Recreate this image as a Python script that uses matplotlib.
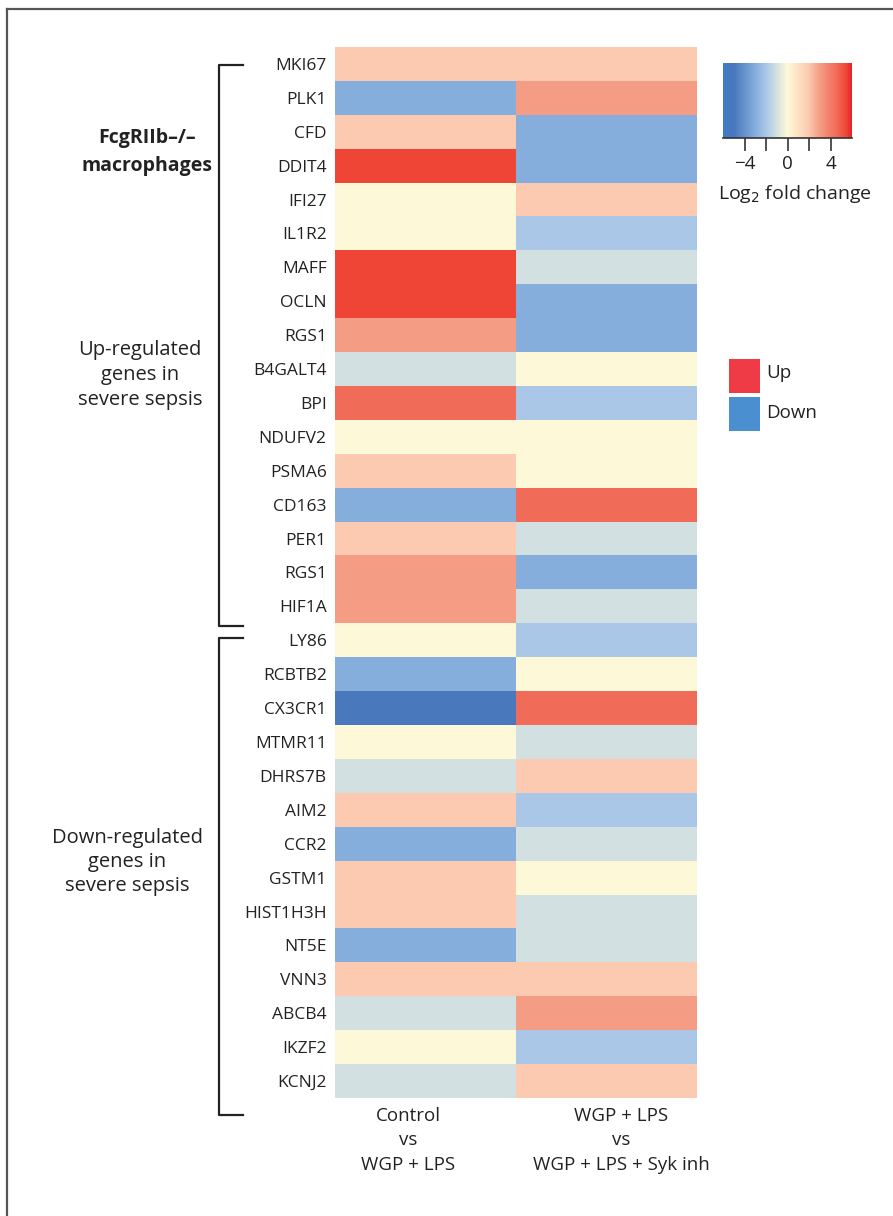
import numpy as np
import matplotlib
matplotlib.use("Agg")
import matplotlib.pyplot as plt
from matplotlib.colors import LinearSegmentedColormap
from matplotlib.lines import Line2D
from matplotlib.patches import Rectangle

plt.rcParams['font.family'] = ['Open Sans', 'DejaVu Sans']

genes = ["MKI67", "PLK1", "CFD", "DDIT4", "IFI27", "IL1R2", "MAFF", "OCLN",
         "RGS1", "B4GALT4", "BPI", "NDUFV2", "PSMA6", "CD163", "PER1", "RGS1",
         "HIF1A", "LY86", "RCBTB2", "CX3CR1", "MTMR11", "DHRS7B", "AIM2", "CCR2",
         "GSTM1", "HIST1H3H", "NT5E", "VNN3", "ABCB4", "IKZF2", "KCNJ2"]

# log2 fold change, Control vs WGP + LPS
lfc_control = [2, -3, 2, 5.5, 0, 0, 5.5, 5.5,
               3, -1, 4.5, 0, 2, -3, 2, 3,
               3, 0, -3, -5, 0, -1, 2, -3,
               2, 2, -3, 2, -1, 0, -1]
# log2 fold change, WGP + LPS vs WGP + LPS + Syk inh
lfc_syk = [2, 3, -3, -3, 2, -2, -1, -3,
           -3, 0, -2, 0, 0, 4.5, -1, -3,
           -1, -2, 0, 4.5, -1, 2, -2, -1,
           0, -1, -1, 2, 3, -2, 2]

column_labels = ["Control\nvs\nWGP + LPS", "WGP + LPS\nvs\nWGP + LPS + Syk inh"]

W, H = 893, 1216
fig = plt.figure(figsize=(W / 100, H / 100), dpi=100)
TXT = "#222222"


def fx(px):
    return px / W


def fy(py):
    return 1 - py / H


# diverging palette, blue -> pale yellow -> red
anchors = [(-6, "#3f7cc6"), (-5, "#4a78bd"), (-3, "#85aedd"), (-2, "#aac7e7"),
           (-1, "#d4e1e1"), (0, "#fef9d8"), (2, "#fbcab0"), (3, "#f59e85"),
           (4.5, "#f26d5b"), (5.5, "#ef4837"), (6, "#e8202a")]
cmap = LinearSegmentedColormap.from_list(
    "lfc", [((v + 6) / 12, c) for v, c in anchors])

data = np.column_stack([lfc_control, lfc_syk])

ax = fig.add_axes([fx(335), fy(1098), fx(697) - fx(335), fy(47) - fy(1098)])
ax.imshow(data, cmap=cmap, vmin=-6, vmax=6, aspect="auto",
          interpolation="nearest")
ax.set_yticks(range(len(genes)))
ax.set_yticklabels(genes, fontsize=12.5, color=TXT)
ax.tick_params(axis="y", length=0, pad=6)
ax.set_xticks([])
for s in ax.spines.values():
    s.set_visible(False)

# column labels under the heatmap
for xc, lab in zip([408, 621], column_labels):
    fig.text(fx(xc), fy(1107), lab, ha="center", va="top",
             fontsize=13.5, color=TXT, linespacing=1.45)


# group brackets
def bracket(y0, y1):
    xs = [fx(243), fx(219), fx(219), fx(243)]
    ys = [fy(y0), fy(y0), fy(y1), fy(y1)]
    fig.add_artist(Line2D(xs, ys, color=TXT, lw=1.6,
                          transform=fig.transFigure))


bracket(65, 626)
bracket(638, 1115)

fig.text(fx(147), fy(152), "FcgRIIb–/–\nmacrophages", ha="center", va="center",
         fontsize=14, fontweight="bold", color=TXT, linespacing=1.6)
fig.text(fx(140), fy(375), "Up-regulated\ngenes in\nsevere sepsis",
         ha="center", va="center", fontsize=14.5, color=TXT,
         linespacing=1.3)
fig.text(fx(127), fy(862), "Down-regulated\ngenes in\nsevere sepsis",
         ha="center", va="center", fontsize=14.5, color=TXT,
         linespacing=1.3)

# colour bar
cax = fig.add_axes([fx(723), fy(138), fx(852) - fx(723), fy(63) - fy(138)])
grad = np.linspace(-6, 6, 256).reshape(1, -1)
cax.imshow(grad, cmap=cmap, vmin=-6, vmax=6, aspect="auto",
           extent=[-6, 6, 0, 1])
cax.set_yticks([])
cax.set_xticks([-4, -2, 0, 2, 4])
cax.set_xticklabels(["\u22124", "", "0", "", "4"], fontsize=13.5, color=TXT)
cax.tick_params(axis="x", length=9, width=1.2, color="#333333", pad=3)
for name, s in cax.spines.items():
    s.set_visible(name == "bottom")
cax.spines["bottom"].set_color("#333333")
cax.spines["bottom"].set_linewidth(1.2)
fig.text(fx(795), fy(194), "Log$_2$ fold change", ha="center", va="center",
         fontsize=14, color=TXT)

# Up / Down key
fig.add_artist(Rectangle((fx(729), fy(393)), fx(31), fy(359) - fy(393),
                         transform=fig.transFigure, color="#ef3b45", lw=0))
fig.add_artist(Rectangle((fx(729), fy(431)), fx(31), fy(397) - fy(431),
                         transform=fig.transFigure, color="#4a8fcf", lw=0))
fig.text(fx(766), fy(373), "Up", ha="left", va="center", fontsize=13.5,
         color=TXT)
fig.text(fx(766), fy(413), "Down", ha="left", va="center", fontsize=13.5,
         color=TXT)

# panel frame
fig.add_artist(Line2D([fx(7), 1], [fy(9), fy(9)], color="#555555", lw=1.6,
                      transform=fig.transFigure))
fig.add_artist(Line2D([fx(7), fx(7)], [fy(9), 0], color="#555555", lw=1.6,
                      transform=fig.transFigure))

fig.savefig("out.png", dpi=100)
